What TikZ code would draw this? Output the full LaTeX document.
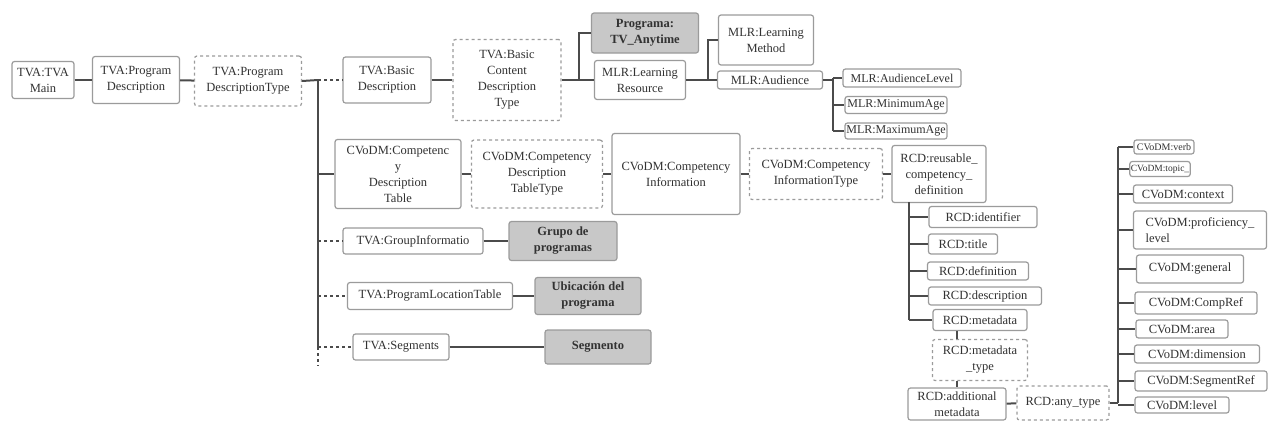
\documentclass[tikz,border=0pt]{standalone}
\usepackage{fontspec}
\setmainfont{Liberation Serif}
\usetikzlibrary{positioning}
\definecolor{tvLine}  {RGB}{ 75, 75, 75}
\definecolor{tvBorder}{RGB}{155,155,155}
\definecolor{tvFill}  {RGB}{200,200,200}
\definecolor{tvText}  {RGB}{ 50, 50, 50}

\begin{document}
\begin{tikzpicture}[x=1pt,y=-1pt,
  every node/.style={font=\fontsize{12.5}{16}\selectfont,text=tvText},
  box/.style={draw=tvBorder,line width=1.2pt,rounded corners=2.5pt,
              align=center,inner sep=1pt,fill=white},
  dbox/.style={box,dash pattern=on 3pt off 3pt},
  gbox/.style={box,fill=tvFill,font=\fontsize{12.5}{16}\selectfont\bfseries},
  link/.style={draw=tvLine,line width=2pt},
  dlink/.style={link,dash pattern=on 3pt off 3pt}
]
\useasboundingbox (0,0) rectangle (1269,424);
% Main chain
\node[box,minimum width=62pt,minimum height=37pt]  (tvamain)  at (43,80)  {TVA:TVA\\Main};
\node[box,minimum width=87pt,minimum height=47pt]  (progdesc) at (136,80) {TVA:Program\\Description};
\node[dbox,minimum width=107pt,minimum height=50pt] (progtype) at (248,81) {TVA:Program\\DescriptionType};
% Left bus branches
\node[box,minimum width=88pt,minimum height=46pt]   (basicdesc) at (387,80)  {TVA:Basic\\Description};
\node[dbox,minimum width=108pt,minimum height=81pt] (basictype) at (507,80)  {TVA:Basic\\Content\\Description\\Type};
\node[box,minimum width=126pt,minimum height=69pt]  (cdtable)   at (398,174) {CVoDM:Competenc\\y\\Description\\Table};
\node[box,minimum width=140pt,minimum height=26pt]  (groupinfo) at (413,241) {TVA:GroupInformatio};
\node[box,minimum width=165pt,minimum height=27pt]  (proglocat) at (430,296) {TVA:ProgramLocationTable};
\node[box,minimum width=96pt,minimum height=26pt]   (segments)  at (401,347) {TVA:Segments};
% Grey boxes
\node[gbox,minimum width=107pt,minimum height=40pt] (programa)  at (645,33)  {Programa:\\TV\_Anytime};
\node[gbox,minimum width=108pt,minimum height=39pt] (grupo)     at (563,241) {Grupo de\\programas};
\node[gbox,minimum width=106pt,minimum height=37pt] (ubicacion) at (588,296) {Ubicación del\\programa};
\node[gbox,minimum width=106pt,minimum height=34pt] (segmento)  at (598,347) {Segmento};
% MLR part
\node[box,minimum width=91pt,minimum height=39pt]  (learnres)  at (640,80)  {MLR:Learning\\Resource};
\node[box,minimum width=95pt,minimum height=50pt]  (learnmeth) at (766,40)  {MLR:Learning\\Method};
\node[box,minimum width=105pt,minimum height=18pt] (audience)  at (770,80)  {MLR:Audience};
\node[box,minimum width=118pt,minimum height=18pt,font=\fontsize{12}{14}\selectfont] (audlevel) at (902,78) {MLR:AudienceLevel};
\node[box,minimum width=102pt,minimum height=17pt,font=\fontsize{12}{14}\selectfont] (minage)   at (896,105) {MLR:MinimumAge};
\node[box,minimum width=102pt,minimum height=16pt,font=\fontsize{12}{14}\selectfont] (maxage)   at (896,131) {MLR:MaximumAge};
% Competency chain
\node[dbox,minimum width=131pt,minimum height=68pt] (cdttype)  at (537,174) {CVoDM:Competency\\Description\\TableType};
\node[box,minimum width=128pt,minimum height=81pt]  (compinfo) at (676,174) {CVoDM:Competency\\Information};
\node[dbox,minimum width=133pt,minimum height=51pt] (citype)   at (816,174) {CVoDM:Competency\\InformationType};
\node[box,minimum width=94pt,minimum height=57pt]   (reusable) at (939,174) {RCD:reusable\_\\competency\_\\definition};
% RCD part
\node[box,minimum width=108pt,minimum height=21pt] (identifier)  at (983,217) {RCD:identifier};
\node[box,minimum width=69pt,minimum height=20pt]  (title)       at (963,244) {RCD:title};
\node[box,minimum width=101pt,minimum height=18pt] (definition)  at (978,271) {RCD:definition};
\node[box,minimum width=113pt,minimum height=18pt] (description) at (985,296) {RCD:description};
\node[box,minimum width=94pt,minimum height=21pt]  (metadata)    at (980,320) {RCD:metadata};
\node[dbox,minimum width=95pt,minimum height=41pt] (metatype)    at (980,360) {RCD:metadata\\\_type};
\node[box,minimum width=98pt,minimum height=32pt]  (additional)  at (957,404) {RCD:additional\\metadata};
\node[dbox,minimum width=92pt,minimum height=34pt] (anytype)     at (1063,403) {RCD:any\_type};
% CVoDM leaves
\node[box,minimum width=60pt,minimum height=14pt,font=\fontsize{10}{12}\selectfont] (verb)  at (1164,147) {CVoDM:verb};
\node[box,minimum width=49pt,minimum height=15pt,font=\fontsize{9.5}{11}\selectfont] (topic) at (1160,169) {CVoDM:topic\_};
\node[box,minimum width=99pt,minimum height=18pt]  (context)    at (1183,194) {CVoDM:context};
\node[box,minimum width=133pt,minimum height=38pt,align=left] (proficiency) at (1200,230) {CVoDM:proficiency\_\\level};
\node[box,minimum width=107pt,minimum height=28pt] (general)    at (1190,269) {CVoDM:general};
\node[box,minimum width=122pt,minimum height=22pt] (compref)    at (1196,303) {CVoDM:CompRef};
\node[box,minimum width=92pt,minimum height=18pt]  (area)       at (1182,329) {CVoDM:area};
\node[box,minimum width=125pt,minimum height=18pt] (dimension)  at (1197,354) {CVoDM:dimension};
\node[box,minimum width=132pt,minimum height=20pt] (segmentref) at (1201,381) {CVoDM:SegmentRef};
\node[box,minimum width=94pt,minimum height=16pt]  (level)      at (1182,405) {CVoDM:level};
% Bus coordinates
\coordinate (busA)    at (318,80);
\coordinate (busAend) at (318,366);
\coordinate (busB)    at (579,80);
\coordinate (busC)    at (708,80);
\coordinate (busD)    at (833,80);
\coordinate (busE)    at (909,202);
\coordinate (mdx)     at (957,0);
\coordinate (busF)    at (1118,403);
% Connectors: main chain
\draw[link] (tvamain) -- (progdesc);
\draw[link] (progdesc) -- (progtype);
\draw[link] (progtype.east) -- (busA);
\draw[link] (busA) -- (busA |- segments.west);
\draw[dlink] (busA |- segments.west) -- (busAend);
\draw[dlink] (busA) -- (basicdesc.west);
\draw[link] (busA |- cdtable.west) -- (cdtable.west);
\draw[dlink] (busA |- groupinfo.west) -- (groupinfo.west);
\draw[dlink] (busA |- proglocat.west) -- (proglocat.west);
\draw[dlink] (busA |- segments.west) -- (segments.west);
\draw[link] (groupinfo) -- (grupo);
\draw[link] (proglocat) -- (ubicacion);
\draw[link] (segments) -- (segmento);
% Connectors: TV-Anytime / MLR
\draw[link] (basicdesc) -- (basictype);
\draw[link] (basictype.east) -- (learnres.west);
\draw[link] (busB) |- (programa.west);
\draw[link] (learnres.east) -- (audience.west);
\draw[link] (busC) |- (learnmeth.west);
\draw[link] (audience.east) -- (busD);
\draw[link] (busD |- audlevel.west) -- (busD |- maxage.west);
\foreach \n in {audlevel,minage,maxage}
  \draw[link] (busD |- \n.west) -- (\n.west);
% Connectors: competency chain
\draw[link] (cdtable) -- (cdttype);
\draw[link] (cdttype) -- (compinfo);
\draw[link] (compinfo) -- (citype);
\draw[link] (citype) -- (reusable);
\draw[link] (busE) -- (busE |- metadata.west);
\foreach \n in {identifier,title,definition,description,metadata}
  \draw[link] (busE |- \n.west) -- (\n.west);
\draw[link] (metadata.south -| mdx) -- (metatype.north -| mdx);
\draw[link] (metatype.south -| mdx) -- (additional.north);
\draw[link] (additional) -- (anytype);
\draw[link] (anytype.east) -- (busF);
\draw[link] (busF) -- (busF |- verb.west);
\foreach \n in {verb,topic,context,proficiency,general,compref,area,dimension,segmentref,level}
  \draw[link] (busF |- \n.west) -- (\n.west);
\end{tikzpicture}
\end{document}
